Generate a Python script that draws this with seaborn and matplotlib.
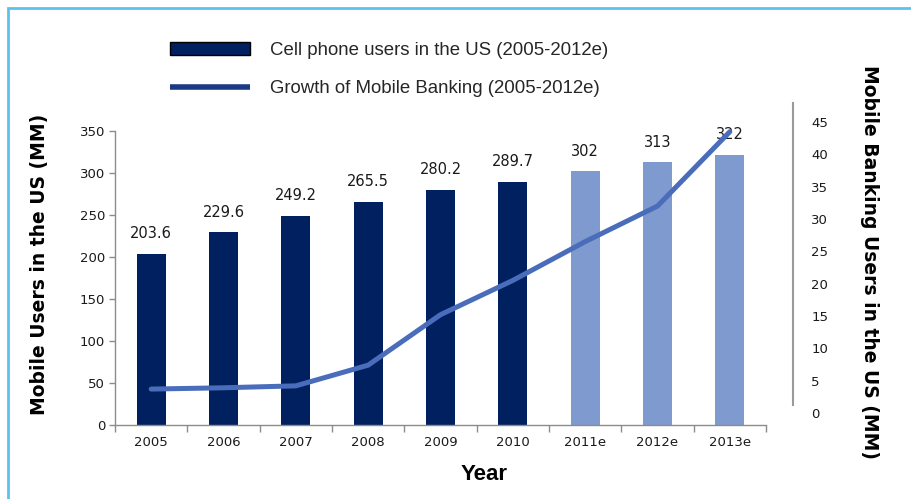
import matplotlib
matplotlib.use("Agg")
import matplotlib.pyplot as plt
from matplotlib.patches import Patch, Rectangle
from matplotlib.lines import Line2D
import numpy as np
import pandas as pd
import seaborn as sns

# Data
years = ["2005", "2006", "2007", "2008", "2009", "2010", "2011e", "2012e", "2013e"]
cell_users = [203.6, 229.6, 249.2, 265.5, 280.2, 289.7, 302, 313, 322]
banking_users = [3.7, 3.9, 4.2, 7.4, 15.2, 20.5, 26.5, 32.0, 43.5]
actual_flags = [True, True, True, True, True, True, False, False, False]
left_ticks = [0, 50, 100, 150, 200, 250, 300, 350]
right_ticks = [0, 5, 10, 15, 20, 25, 30, 35, 40, 45]

NAVY = "#002060"
LIGHT = "#7F9ACE"
LINE = "#4A6DBB"
LEGEND_LINE = "#1B3A86"
AXIS_GRAY = "#8C8C8C"
TEXT = "#1A1A1A"
NARROW = ["Liberation Sans Narrow", "Liberation Sans"]

sns.set_theme(style="white")
plt.rcParams["font.family"] = ["DejaVu Sans"]

W, H = 912, 499
fig = plt.figure(figsize=(W / 100, H / 100), dpi=100)


def fx(px):
    return px / W


def fy(py):
    return 1 - py / H


# Frame around the whole figure
fig.patches.append(Rectangle((fx(8), -0.05), 1.2, fy(8) + 0.05, transform=fig.transFigure,
                             fill=False, edgecolor="#5BC2EE", linewidth=2, zorder=0))

# Primary axes (bars)
ax1 = fig.add_axes([fx(115), fy(425), fx(766) - fx(115), fy(131) - fy(425)])
df = pd.DataFrame({"year": years, "users": cell_users})
palette = {y: (NAVY if a else LIGHT) for y, a in zip(years, actual_flags)}
sns.barplot(data=df, x="year", y="users", hue="year", palette=palette, legend=False,
            width=0.4, ax=ax1, saturation=1, edgecolor="none")
ax1.set_xlim(-0.5, len(years) - 0.5)
ax1.set_ylim(0, 350)
ax1.set_yticks(left_ticks)
for container in ax1.containers:
    ax1.bar_label(container, labels=[f"{v:g}" for v in container.datavalues],
                  padding=9, fontsize=10.5, color=TEXT, family="DejaVu Sans")

for side in ("top", "right"):
    ax1.spines[side].set_visible(False)
for side in ("left", "bottom"):
    ax1.spines[side].set_color(AXIS_GRAY)
    ax1.spines[side].set_linewidth(1)
ax1.set_xlabel("")
ax1.set_ylabel("")
ax1.tick_params(axis="y", which="major", direction="out", length=4, width=1,
                color=AXIS_GRAY, pad=3, labelsize=9.5, labelcolor=TEXT, left=True)
ax1.tick_params(axis="x", which="major", length=0, pad=8, labelsize=9.5, labelcolor=TEXT)
ax1.set_xticks(np.arange(-0.5, len(years)), minor=True)
ax1.tick_params(axis="x", which="minor", direction="out", length=5, width=1,
                color=AXIS_GRAY, bottom=True)
ax1.set_facecolor("none")

# Secondary axes (mobile banking line)
px_per_unit = (413 - 122) / 45
y_lo = (413 - 425) / px_per_unit
y_hi = (413 - 103) / px_per_unit
ax2 = fig.add_axes([fx(115), fy(425), fx(766) - fx(115), fy(103) - fy(425)], sharex=ax1)
ax2.set_facecolor("none")
sns.lineplot(x=np.arange(len(years)), y=banking_users, ax=ax2, color=LINE,
             linewidth=3.6, solid_capstyle="round", solid_joinstyle="round", zorder=5)
ax2.set_ylim(y_lo, y_hi)
ax2.set_yticks(right_ticks)
ax2.yaxis.tick_right()
for side in ("top", "left", "bottom"):
    ax2.spines[side].set_visible(False)
ax2.spines["right"].set_position(("outward", 19.5))
ax2.spines["right"].set_color("#9A9A9A")
ax2.spines["right"].set_linewidth(1.5)
ax2.spines["right"].set_bounds((413 - 405) / px_per_unit, y_hi)
ax2.tick_params(axis="y", length=0, pad=13, labelsize=9.5, labelcolor=TEXT, right=True)
ax2.tick_params(axis="x", bottom=False, labelbottom=False)
ax2.set_xlabel("")
ax2.set_ylabel("")

# Axis titles
fig.text(fx(40), fy(264), "Mobile Users in the US (MM)", rotation=90, ha="center",
         va="center", fontsize=13.5, fontweight="bold", color="black")
fig.text(fx(870), fy(262), "Mobile Banking Users in the US (MM)", rotation=-90,
         ha="center", va="center", fontsize=13.5, fontweight="bold", color="black")
fig.text(fx(484), fy(474), "Year", ha="center", va="center", fontsize=16,
         fontweight="bold", color="black", family=NARROW)

# Legend
handles = [
    Patch(facecolor=NAVY, edgecolor="black", linewidth=1),
    Line2D([0], [0], color=LEGEND_LINE, linewidth=4, solid_capstyle="butt"),
]
labels = ["Cell phone users in the US (2005-2012e)",
          "Growth of Mobile Banking (2005-2012e)"]
fig.legend(handles, labels, loc="upper left", bbox_to_anchor=(fx(170), fy(42)),
           bbox_transform=fig.transFigure, frameon=False, borderpad=0,
           borderaxespad=0, handlelength=4.3, handletextpad=1.07, labelspacing=1.13,
           prop={"family": NARROW, "size": 13.4})

fig.savefig("out.png", dpi=100)
